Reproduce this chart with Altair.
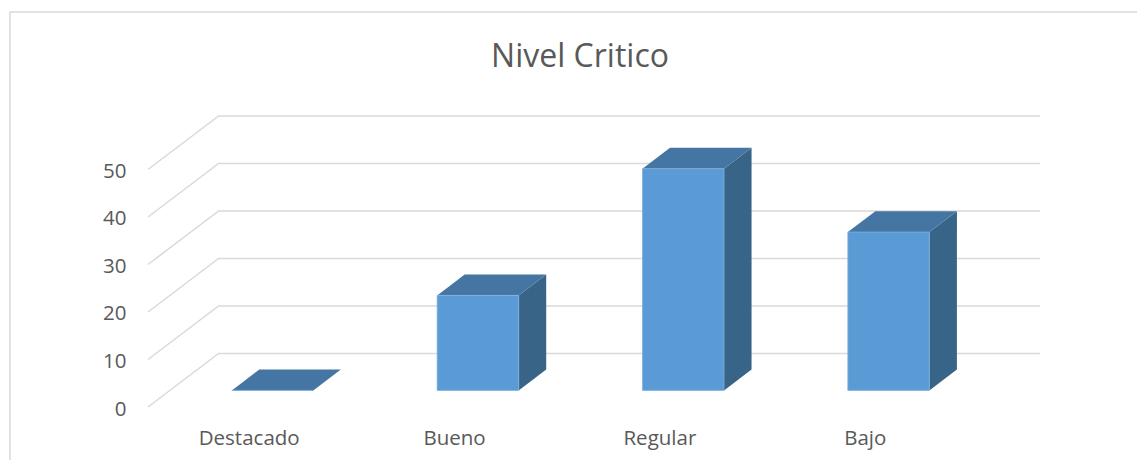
import altair as alt
import pandas as pd

# ---- data ----
categories = ["Destacado", "Bueno", "Regular", "Bajo"]
values = [0.0, 20.0, 46.67, 33.33]
y_ticks = [0, 10, 20, 30, 40, 50]
title_text = "Nivel Critico"

# ---- layout (3D oblique projection constants) ----
PLOT_W, PLOT_H = 892, 291
DEPTH_X = 0.3438      # floor depth expressed in category units
DEPTH_Y = 11.26       # floor depth expressed in value units
FRONT = 0.31          # bar front plane, fraction of floor depth
DEPTH = 0.39          # bar depth, fraction of floor depth
BAR_W = 0.397         # bar width in category units
X_MIN = -0.5
X_MAX = len(categories) - 0.5 + DEPTH_X
Y_MAX = max(y_ticks) + DEPTH_Y

FRONT_COL = "#5B9BD5"
TOP_COL = "#4576A3"
SIDE_COL = "#386487"
GRID_COL = "#D9D9D9"
TEXT_COL = "#595959"
FONT = "Open Sans"

front_rows, top_rows, side_rows = [], [], []
for i, (c, v) in enumerate(zip(categories, values)):
    cx = i + FRONT * DEPTH_X
    xl, xr = cx - BAR_W / 2, cx + BAR_W / 2
    y0 = FRONT * DEPTH_Y
    front_rows.append(dict(cat=c, xl=xl, xr=xr, y0=y0, y1=y0 + v))
    for k, t in enumerate([0.0, DEPTH]):
        top_rows.append(dict(cat=c, ty=y0 + v + t * DEPTH_Y,
                             tl=xl + t * DEPTH_X, tr=xr + t * DEPTH_X))
        side_rows.append(dict(cat=c, sx=xr + t * DEPTH_X,
                              sb=y0 + t * DEPTH_Y, st=y0 + v + t * DEPTH_Y))

grid_rows = []
for v in y_ticks:
    grid_rows.append(dict(g=v, ord=0, x=X_MIN, y=v))
    grid_rows.append(dict(g=v, ord=1, x=X_MIN + DEPTH_X, y=v + DEPTH_Y))
    grid_rows.append(dict(g=v, ord=2, x=X_MAX, y=v + DEPTH_Y))

front_df = pd.DataFrame(front_rows)
top_df = pd.DataFrame(top_rows)
side_df = pd.DataFrame(side_rows)
grid_df = pd.DataFrame(grid_rows)

xs = alt.Scale(domain=[X_MIN, X_MAX], nice=False, zero=False)
ys = alt.Scale(domain=[0, Y_MAX], nice=False, zero=False)

label_list = "[" + ",".join("'" + c + "'" for c in categories) + "]"

ax_x = alt.Axis(
    values=list(range(len(categories))),
    labelExpr=label_list + "[datum.value]",
    ticks=False, domain=False, grid=False, title=None, labelOffset=-2,
    labelPadding=21, labelFontSize=20.5, labelFont=FONT, labelColor=TEXT_COL,
)
ax_y = alt.Axis(
    values=y_ticks, ticks=False, domain=False, grid=False, title=None,
    labelPadding=22, labelFontSize=20.5, labelFont=FONT, labelColor=TEXT_COL,
    labelOffset=2,
)

frame = alt.Chart(alt.Data(values=[{"a": 1}])).mark_rect(
    fillOpacity=0, stroke=GRID_COL, strokeWidth=1.5
).encode(
    x=alt.value(-138), x2=alt.value(1100),
    y=alt.value(-104), y2=alt.value(420),
)

grid = alt.Chart(grid_df).mark_line(color=GRID_COL, strokeWidth=1.5).encode(
    x=alt.X("x:Q", scale=xs, axis=ax_x),
    y=alt.Y("y:Q", scale=ys, axis=ax_y),
    detail="g:N",
    order="ord:Q",
)

side = alt.Chart(side_df).mark_area(orient="vertical", color=SIDE_COL).encode(
    x=alt.X("sx:Q", scale=xs, axis=ax_x),
    y=alt.Y("sb:Q", scale=ys, axis=ax_y, stack=False),
    y2="st:Q",
    detail="cat:N",
)

top = alt.Chart(top_df).mark_area(orient="horizontal", color=TOP_COL).encode(
    y=alt.Y("ty:Q", scale=ys, axis=ax_y),
    x=alt.X("tl:Q", scale=xs, axis=ax_x, stack=False),
    x2="tr:Q",
    detail="cat:N",
)

front = alt.Chart(front_df).mark_rect(color=FRONT_COL, stroke="#7DB0DF", strokeWidth=0.8).encode(
    x=alt.X("xl:Q", scale=xs, axis=ax_x),
    x2="xr:Q",
    y=alt.Y("y0:Q", scale=ys, axis=ax_y),
    y2="y1:Q",
)

chart = alt.layer(frame, grid, side, top, front).properties(
    width=PLOT_W,
    height=PLOT_H,
    title=alt.TitleParams(
        title_text, font=FONT, fontSize=32, fontWeight="normal", color=TEXT_COL,
        anchor="middle", frame="group", offset=-88, dx=-14, baseline="alphabetic",
    ),
    autosize=alt.AutoSizeParams(type="none"),
    padding={"left": 140, "top": 108, "right": 97, "bottom": 53},
).configure(background="white").configure_view(stroke=None)

chart.save("out.html", embed_options={"renderer": "svg", "actions": False})
